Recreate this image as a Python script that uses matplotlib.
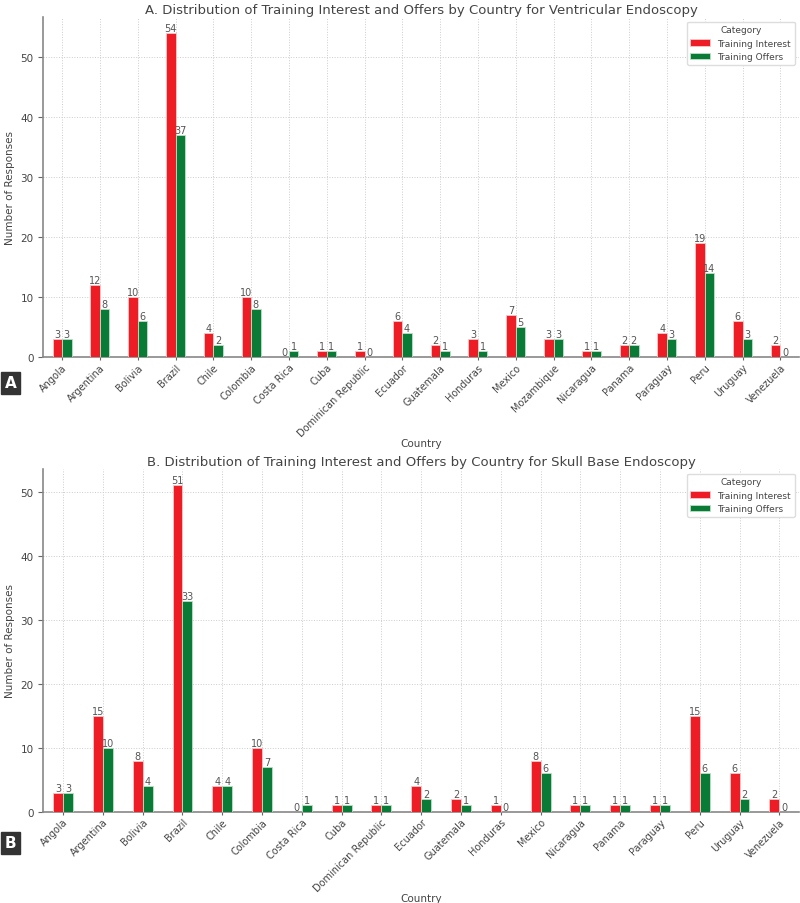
import matplotlib
matplotlib.use("Agg")
import matplotlib.pyplot as plt
import numpy as np

countries_a = ["Angola", "Argentina", "Bolivia", "Brazil", "Chile", "Colombia", "Costa Rica",
               "Cuba", "Dominican Republic", "Ecuador", "Guatemala", "Honduras", "Mexico",
               "Mozambique", "Nicaragua", "Panama", "Paraguay", "Peru", "Uruguay", "Venezuela"]
interest_a = [3, 12, 10, 54, 4, 10, 0, 1, 1, 6, 2, 3, 7, 3, 1, 2, 4, 19, 6, 2]
offers_a = [3, 8, 6, 37, 2, 8, 1, 1, 0, 4, 1, 1, 5, 3, 1, 2, 3, 14, 3, 0]

countries_b = ["Angola", "Argentina", "Bolivia", "Brazil", "Chile", "Colombia", "Costa Rica",
               "Cuba", "Dominican Republic", "Ecuador", "Guatemala", "Honduras", "Mexico",
               "Nicaragua", "Panama", "Paraguay", "Peru", "Uruguay", "Venezuela"]
interest_b = [3, 15, 8, 51, 4, 10, 0, 1, 1, 4, 2, 1, 8, 1, 1, 1, 15, 6, 2]
offers_b = [3, 10, 4, 33, 4, 7, 1, 1, 1, 2, 1, 0, 6, 1, 1, 1, 6, 2, 0]

RED = "#ee1d25"
GREEN = "#0a7b36"
TXT = "#444444"


def draw_panel(ax, countries, interest, offers, title):
    x = np.arange(len(countries))
    w = 0.25
    b1 = ax.bar(x - w / 2, interest, w, color=RED, edgecolor="#f6c9c9", linewidth=0.6,
                label="Training Interest", zorder=3)
    b2 = ax.bar(x + w / 2, offers, w, color=GREEN, edgecolor="#b9e2c3", linewidth=0.6,
                label="Training Offers", zorder=3)
    ax.bar_label(b1, fontsize=7, color="#555555", padding=0)
    ax.bar_label(b2, fontsize=7, color="#555555", padding=0)
    ax.set_xlim(-0.5, len(countries) - 0.5)
    ax.set_ylim(0, max(interest) * 1.05)
    ax.set_xticks(x)
    ax.set_xticklabels(countries, rotation=45, ha="right", rotation_mode="anchor",
                       fontsize=7, color=TXT)
    ax.tick_params(axis="y", labelsize=7.5, labelcolor=TXT, color="#666666")
    ax.tick_params(axis="x", color="#666666", length=2, pad=1.5)
    ax.set_title(title, fontsize=9.5, color=TXT, pad=3)
    ax.set_xlabel("Country", fontsize=7.5, color=TXT, labelpad=0)
    ax.set_ylabel("Number of Responses", fontsize=7.5, color=TXT)
    ax.grid(True, linestyle=":", color="#cccccc", linewidth=0.7, zorder=0)
    ax.set_axisbelow(True)
    for s in ["top", "right"]:
        ax.spines[s].set_visible(False)
    for s in ["left", "bottom"]:
        ax.spines[s].set_color("#888888")
        ax.spines[s].set_linewidth(1.2)
    leg = ax.legend(title="Category", fontsize=6.5, title_fontsize=6.5, loc="upper right",
                    handlelength=2.2, framealpha=1, edgecolor="#dddddd")
    for t in leg.get_texts():
        t.set_color(TXT)
    leg.get_title().set_color(TXT)


fig = plt.figure(figsize=(8, 9.04), dpi=100)
ax1 = fig.add_axes([0.054, 0.604, 0.945, 0.376])
ax2 = fig.add_axes([0.054, 0.101, 0.945, 0.379])

draw_panel(ax1, countries_a, interest_a, offers_a,
           "A. Distribution of Training Interest and Offers by Country for Ventricular Endoscopy")
draw_panel(ax2, countries_b, interest_b, offers_b,
           "B. Distribution of Training Interest and Offers by Country for Skull Base Endoscopy")

for letter, ypix in [("A", 384), ("B", 844)]:
    fig.text(0.013, 1 - ypix / 904, letter, fontsize=11, fontweight="bold", color="white",
             ha="center", va="center",
             bbox=dict(boxstyle="square,pad=0.25", fc="#333333", ec="#333333"))

fig.savefig("out.png", dpi=100)
